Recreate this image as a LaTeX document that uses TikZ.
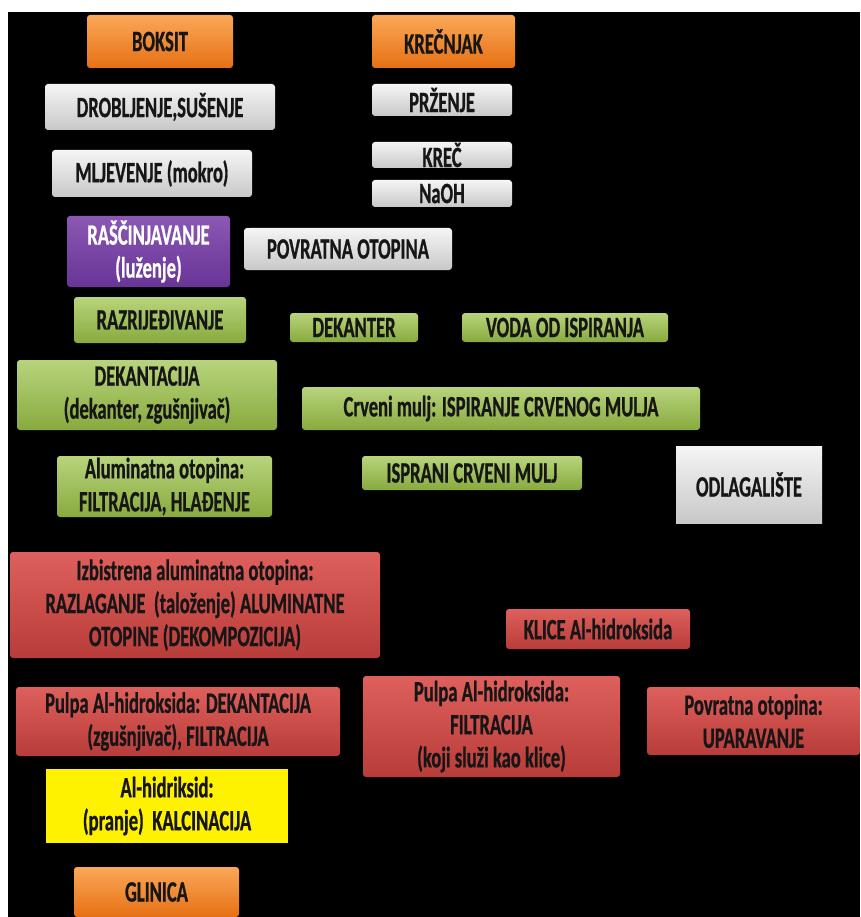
\documentclass[tikz,border=0pt]{standalone}
\usepackage{fontspec}
\setmainfont{Carlito}[FakeStretch=0.63,BoldFeatures={FakeBold=0.7}]
\usetikzlibrary{arrows}

\definecolor{orTop}{RGB}{250,168,88}
\definecolor{orBot}{RGB}{230,112,20}
\definecolor{grTop}{RGB}{245,245,245}
\definecolor{grBot}{RGB}{200,200,200}
\definecolor{puTop}{RGB}{140,88,180}
\definecolor{puBot}{RGB}{104,52,150}
\definecolor{gnTop}{RGB}{184,212,124}
\definecolor{gnBot}{RGB}{136,170,62}
\definecolor{rdTop}{RGB}{222,96,92}
\definecolor{rdBot}{RGB}{184,60,57}
\definecolor{ink}{RGB}{22,22,22}

\begin{document}
\begin{tikzpicture}[->,>=stealth',shorten >=1pt,x=1pt,y=-1pt,
    box/.style={rounded corners=3pt,inner sep=0pt,align=center,text=ink,
      font=\bfseries\fontsize{29.5}{33}\selectfont},
    orangebox/.style={box,top color=orTop,bottom color=orBot},
    graybox/.style={box,top color=grTop,bottom color=grBot},
    purplebox/.style={box,top color=puTop,bottom color=puBot,text=white},
    greenbox/.style={box,top color=gnTop,bottom color=gnBot},
    redbox/.style={box,top color=rdTop,bottom color=rdBot},
    yellowbox/.style={box,rounded corners=0pt,fill=yellow},
    line/.style={draw=black,line width=1.5pt}]

  % background
  \fill[black] (0,0) rectangle (860,917);
  \fill[white] (0,0) rectangle (860,12.5);
  \fill[white] (0,0) rectangle (8,917);

  % left column
  \node[orangebox,minimum width=146,minimum height=53] (boksit) at (160,41.5) {BOKSIT};
  \node[graybox,minimum width=230,minimum height=46] (drobljenje) at (160,107) {DROBLJENJE,SUŠENJE};
  \node[graybox,minimum width=200,minimum height=47] (mljevenje) at (152,173.5) {MLJEVENJE (mokro)};
  \node[purplebox,minimum width=163,minimum height=71] (rascinjavanje) at (148.5,251.5) {RAŠČINJAVANJE\\(luženje)};
  \node[greenbox,minimum width=172,minimum height=46] (razrjedivanje) at (160,320) {RAZRIJEĐIVANJE};
  \node[greenbox,minimum width=260,minimum height=70] (dekantacija) at (147,395) {DEKANTACIJA\\(dekanter, zgušnjivač)};
  \node[greenbox,minimum width=215,minimum height=61] (aluminatna) at (164.5,486.5) {Aluminatna otopina:\\FILTRACIJA, HLAĐENJE};
  \node[redbox,minimum width=370,minimum height=106] (izbistrena) at (195,605) {Izbistrena aluminatna otopina:\\RAZLAGANJE\ \ (taloženje) ALUMINATNE\\OTOPINE (DEKOMPOZICIJA)};
  \node[redbox,minimum width=324,minimum height=69] (pulpadek) at (178,721.5) {Pulpa Al-hidroksida: DEKANTACIJA\\(zgušnjivač), FILTRACIJA};
  \node[yellowbox,minimum width=242,minimum height=74] (alhidriksid) at (167,806) {Al-hidriksid:\\(pranje)\ \ KALCINACIJA};
  \node[orangebox,minimum width=165,minimum height=50] (glinica) at (156.5,892) {GLINICA};

  % lime column
  \node[orangebox,minimum width=143,minimum height=53] (krecnjak) at (443.5,41.5) {KREČNJAK};
  \node[graybox,minimum width=140,minimum height=32] (przenje) at (442,100) {PRŽENJE};
  \node[graybox,minimum width=140,minimum height=26] (krec) at (442,155) {KREČ};
  \node[graybox,minimum width=140,minimum height=27] (naoh) at (442,193.5) {NaOH};

  % right side
  \node[graybox,minimum width=208,minimum height=42] (povratna) at (348,249) {POVRATNA OTOPINA};
  \node[greenbox,minimum width=128,minimum height=29] (dekanter) at (354,327.5) {DEKANTER};
  \node[greenbox,minimum width=206,minimum height=29] (voda) at (565,327.5) {VODA OD ISPIRANJA};
  \node[greenbox,minimum width=398,minimum height=43] (crveni) at (501,408.5) {Crveni mulj: ISPIRANJE CRVENOG MULJA};
  \node[greenbox,minimum width=220,minimum height=34] (isprani) at (472,473) {ISPRANI CRVENI MULJ};
  \node[graybox,rounded corners=0pt,minimum width=146,minimum height=77] (odlagaliste) at (749,484.5) {ODLAGALIŠTE};
  \node[redbox,minimum width=184,minimum height=40] (klice) at (598,629) {KLICE Al-hidroksida};
  \node[redbox,minimum width=257,minimum height=101] (pulpafilt) at (491.5,726.5) {Pulpa Al-hidroksida:\\FILTRACIJA\\(koji služi kao klice)};
  \node[redbox,minimum width=213,minimum height=68] (uparavanje) at (753.5,721) {Povratna otopina:\\UPARAVANJE};

  % connectors
  \path[line] (boksit) edge (drobljenje)
        (drobljenje) edge (mljevenje)
        (mljevenje) edge (rascinjavanje)
        (rascinjavanje) edge (razrjedivanje)
        (razrjedivanje) edge (dekantacija)
        (dekantacija) edge (aluminatna)
        (aluminatna) edge (izbistrena)
        (izbistrena) edge (pulpadek)
        (pulpadek) edge (alhidriksid)
        (alhidriksid) edge (glinica)
        (krecnjak) edge (przenje)
        (przenje) edge (krec)
        (dekantacija) edge (crveni)
        (crveni) edge (isprani)
        (isprani) edge (odlagaliste)
        (voda) edge (dekanter)
        (dekanter) edge (razrjedivanje)
        (pulpadek) edge (pulpafilt)
        (pulpafilt) edge (uparavanje)
        (pulpafilt) edge (klice);
  \draw[line] ([xshift=5]povratna.north west) -- ([xshift=-3]mljevenje.south east);
  \draw[line] (crveni.east) -- ++(12,0) |- (voda.east);
  \draw[line] (klice.north) |- ([yshift=20]izbistrena.east);
  \draw[line] ([xshift=-21]uparavanje.north east) |- (povratna.east);

\end{tikzpicture}
\end{document}
